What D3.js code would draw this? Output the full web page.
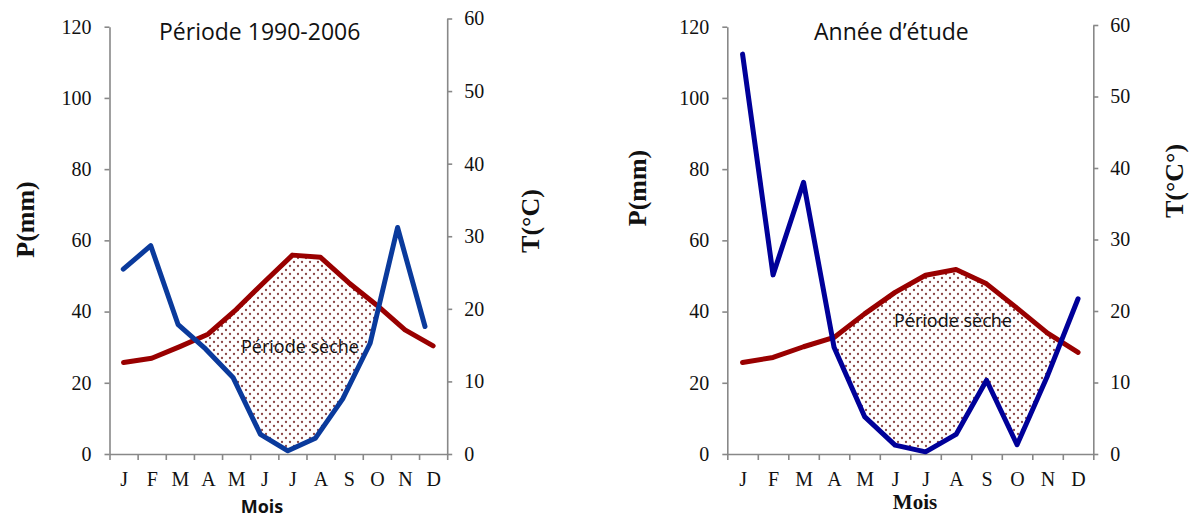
<!DOCTYPE html>
<html><head><meta charset="utf-8">
<script src="https://cdn.jsdelivr.net/npm/d3@7"></script>
<style>body{margin:0;background:#fff}svg{display:block}</style>
</head><body>
<svg id="chart" width="1198" height="517"></svg>
<script>
// ---- data ----
const months = ["J","F","M","A","M","J","J","A","S","O","N","D"];
const pTicks = [0, 20, 40, 60, 80, 100, 120];
const tTicks = [0, 10, 20, 30, 40, 50, 60];
const precip1990 = [51.9, 58.5, 36.3, 29.5, 21.5, 5.5, 0.9, 4.4, 15.5, 31.1, 63.6, 35.8];
const temp1990   = [12.6, 13.2, 14.8, 16.5, 19.9, 23.7, 27.4, 27.1, 23.6, 20.5, 17.1, 14.9];
const precipEtude = [112.3, 50.3, 76.3, 30.0, 10.5, 2.5, 0.6, 5.5, 20.7, 2.6, 22.0, 43.6];
const tempEtude   = [12.8, 13.5, 15.0, 16.3, 19.6, 22.6, 25.0, 25.8, 23.8, 20.4, 16.9, 14.2];
const titles = ["Période 1990-2006", "Année d’étude"];
const dryLabel = "Période sèche";
const xLabel = "Mois";
const pLabel = "P(mm)";
const tLabels = ["T(°C)", "T(°C°)"];

// ---- layout / styles ----
const svg = d3.select("#chart");
const serif = "'Liberation Serif','Times New Roman',serif";
const sans = "'Open Sans','Noto Sans',sans-serif";
const axisColor = "#888";
const red = "#990000";

const defs = svg.append("defs");
const T = 8;
const pat = defs.append("pattern").attr("id","dots").attr("patternUnits","userSpaceOnUse")
  .attr("width",T).attr("height",T);
pat.append("rect").attr("width",T).attr("height",T).attr("fill","#fff");
pat.append("circle").attr("cx",T/4).attr("cy",T/4).attr("r",1.15).attr("fill","#8a4545");
pat.append("circle").attr("cx",3*T/4).attr("cy",3*T/4).attr("r",1.15).attr("fill","#8a4545");

const charts = [
  {id:0, precip:precip1990, temp:temp1990, x0:109.5, x1:447.2, y0:454, pTop:26.7, tTop:18.5,
   pxRange:[123.3,425], blue:"#0a3a9c", title:titles[0], titleX:159, titleY:40,
   dryX:300, dryY:353, mois:{x:262, y:513, font:sans, size:18},
   pLab:{x:33.5, y:219.5}, tLab:{x:539, y:221, text:tLabels[0]}},
  {id:1, precip:precipEtude, temp:tempEtude, x0:727.3, x1:1093.3, y0:454, pTop:26.7, tTop:25,
   pxRange:null, blue:"#000099", title:titles[1], titleX:814, titleY:40,
   dryX:953, dryY:327, mois:{x:915, y:509, font:serif, size:21},
   pLab:{x:646, y:188}, tLab:{x:1183, y:181, text:tLabels[1]}}
];

charts.forEach(c => {
  const idx = d3.range(months.length);
  const xT = d3.scalePoint().domain(idx).range([c.x0, c.x1]).padding(0.5);
  const xP = c.pxRange ? d3.scalePoint().domain(idx).range(c.pxRange) : xT;
  const xB = d3.scaleLinear().domain([0, months.length]).range([c.x0, c.x1]);
  const yP = d3.scaleLinear().domain([0,120]).range([c.y0, c.pTop]);
  const yT = d3.scaleLinear().domain([0,60]).range([c.y0, c.tTop]);
  const g = svg.append("g");

  // dry period: region below temperature curve and above precipitation curve
  const belowRed = d3.area().x(i=>xT(i)).y0(c.y0+50).y1(i=>yT(c.temp[i]));
  const aboveBlue = d3.area().x(i=>xP(i)).y0(-50).y1(i=>yP(c.precip[i]));
  defs.append("clipPath").attr("id","cr"+c.id).append("path").attr("d", belowRed(idx));
  defs.append("clipPath").attr("id","cb"+c.id).append("path").attr("d", aboveBlue(idx));
  g.append("g").attr("clip-path","url(#cb"+c.id+")")
    .append("rect").attr("clip-path","url(#cr"+c.id+")")
    .attr("x",c.x0).attr("y",0).attr("width",c.x1-c.x0).attr("height",c.y0)
    .attr("fill","url(#dots)");

  // axes
  const ax = (sel) => { sel.selectAll("path,line").attr("stroke",axisColor).attr("stroke-width",1.6);
    sel.selectAll("text").attr("font-family",serif).attr("font-size",20).attr("fill","#111"); };
  g.append("g").attr("transform",`translate(${c.x0},0)`)
    .call(d3.axisLeft(yP).tickValues(pTicks).tickSize(5).tickSizeOuter(0).tickPadding(13)).call(ax);
  g.append("g").attr("transform",`translate(${c.x1},0)`)
    .call(d3.axisRight(yT).tickValues(tTicks).tickSize(5).tickSizeOuter(0).tickPadding(12)).call(ax);
  g.append("g").attr("transform",`translate(0,${c.y0})`)
    .call(d3.axisBottom(xB).tickValues(d3.range(months.length+1)).tickSize(6).tickSizeOuter(0).tickFormat("")).call(ax);
  const mx = g.append("g").attr("transform",`translate(0,${c.y0})`)
    .call(d3.axisBottom(xT).tickSize(0).tickPadding(18).tickFormat(i=>months[i])).call(ax);
  mx.select(".domain").remove();

  // lines
  g.append("path").attr("d", d3.line().x(i=>xT(i)).y(i=>yT(c.temp[i]))(idx))
    .attr("fill","none").attr("stroke",red).attr("stroke-width",5)
    .attr("stroke-linejoin","round").attr("stroke-linecap","round");
  g.append("path").attr("d", d3.line().x(i=>xP(i)).y(i=>yP(c.precip[i]))(idx))
    .attr("fill","none").attr("stroke",c.blue).attr("stroke-width",5)
    .attr("stroke-linejoin","round").attr("stroke-linecap","round");

  // texts
  g.append("text").text(c.title).attr("x",c.titleX).attr("y",c.titleY)
    .attr("font-family",sans).attr("font-size",23).attr("fill","#111");
  g.append("text").text(dryLabel).attr("x",c.dryX).attr("y",c.dryY).attr("text-anchor","middle")
    .attr("font-family",sans).attr("font-size",18).attr("fill","#111");
  g.append("text").text(xLabel).attr("x",c.mois.x).attr("y",c.mois.y).attr("text-anchor","middle")
    .attr("font-family",c.mois.font).attr("font-size",c.mois.size).attr("font-weight","bold").attr("fill","#111");
  g.append("text").text(pLabel).attr("transform",`translate(${c.pLab.x},${c.pLab.y}) rotate(-90)`)
    .attr("text-anchor","middle").attr("font-family",serif).attr("font-size",26).attr("font-weight","bold").attr("fill","#111");
  g.append("text").text(c.tLab.text).attr("transform",`translate(${c.tLab.x},${c.tLab.y}) rotate(-90)`)
    .attr("text-anchor","middle").attr("font-family",serif).attr("font-size",26).attr("font-weight","bold").attr("fill","#111");
});
</script>
</body></html>
